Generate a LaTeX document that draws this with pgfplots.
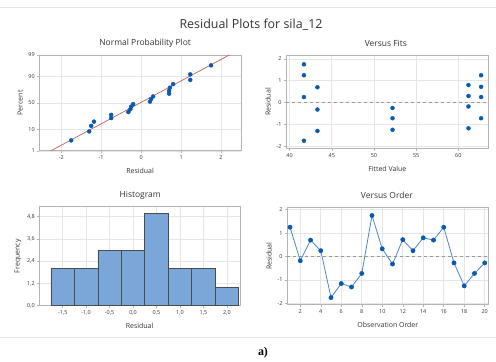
\documentclass[border=0pt]{standalone}
\usepackage{pgfplots}
\pgfplotsset{compat=1.18}
\usepackage{fontspec}
\setmainfont{Open Sans}
\newfontfamily\serifbold{Liberation Serif}
\definecolor{ptblue}{HTML}{0A5AAE}
\definecolor{lineblue}{HTML}{4A86C8}
\definecolor{barfill}{HTML}{7BA6D8}
\definecolor{fitred}{HTML}{C0605C}
\definecolor{gridc}{HTML}{E6E6E6}
\definecolor{framec}{HTML}{B4B4B4}
\definecolor{textc}{HTML}{333333}
\pgfplotsset{
  mystyle/.style={
    scale only axis,
    axis line style={framec, line width=0.8pt},
    grid=major, grid style={gridc, line width=0.6pt},
    tick style={framec, line width=0.5pt},
    tick align=outside, major tick length=2bp,
    xtick pos=bottom, ytick pos=left,
    ticklabel style={font=\fontsize{5.5}{6}\selectfont, text=textc},
    label style={font=\fontsize{7}{8}\selectfont, text=textc},
    xlabel style={yshift=-2bp},
    ylabel style={yshift=-1bp},
    xticklabel style={yshift=1bp},
    yticklabel style={xshift=1bp},
    /pgf/number format/assume math mode=true,
  }
}
\begin{document}
\begin{tikzpicture}[x=1bp,y=1bp]
\path (0,0) rectangle (496,361);
\draw[gridc, line width=0.6pt] (0,354) -- (496,354);
\draw[gridc, line width=0.6pt] (0,23) -- (496,23);
\node[font=\fontsize{12.5}{14}\selectfont, text=textc] at (251,336) {Residual Plots for sila\_12};
\node[font=\fontsize{8.5}{10}\selectfont, text=textc] at (145,318) {Normal Probability Plot};
\node[font=\fontsize{8.5}{10}\selectfont, text=textc] at (386,318) {Versus Fits};
\node[font=\fontsize{8.5}{10}\selectfont, text=textc] at (140,165) {Histogram};
\node[font=\fontsize{8.5}{10}\selectfont, text=textc] at (387,165) {Versus Order};
\node[font=\serifbold\bfseries\fontsize{12}{13}\selectfont] at (263,8) {a)};

% Normal probability plot
\begin{axis}[mystyle, at={(39bp,210bp)}, anchor=south west,
  width=202bp, height=96bp,
  xmin=-2.55, xmax=2.5, ymin=-2.326, ymax=2.326,
  xtick={-2,-1,0,1,2}, xticklabels={-2,-1,0,1,2},
  ytick={-2.326,-1.2816,0,1.2816,2.326}, yticklabels={1,10,50,90,99},
  xlabel={Residual}, ylabel={Percent}, clip=true]
\addplot[fitred, line width=0.7pt] coordinates {(-2.26,-2.326) (2.21,2.326)};
\addplot[only marks, mark=*, mark size=2pt, ptblue] coordinates {
(-1.75,-1.82) (-1.30,-1.383) (-1.25,-1.115) (-1.18,-0.910) (-0.75,-0.737)
(-0.75,-0.584) (-0.32,-0.445) (-0.27,-0.312) (-0.25,-0.185) (-0.20,-0.061)
(0.22,0.061) (0.25,0.185) (0.30,0.312) (0.70,0.445) (0.70,0.584)
(0.72,0.737) (0.80,0.910) (1.23,1.115) (1.23,1.383) (1.75,1.82)};
\end{axis}

% Versus fits
\begin{axis}[mystyle, at={(286bp,212bp)}, anchor=south west,
  width=203bp, height=94bp,
  xmin=39.57, xmax=63.6, ymin=-2.12, ymax=2.18,
  xtick={40,45,50,55,60}, ytick={-2,-1,0,1,2},
  xticklabels={40,45,50,55,60}, yticklabels={-2,-1,0,1,2},
  xlabel={Fitted Value}, ylabel={Residual}]
\addplot[gray!80, dashed, line width=0.6pt] coordinates {(39.57,0) (63.6,0)};
\addplot[only marks, mark=*, mark size=2pt, ptblue] coordinates {
(41.7,1.75) (41.7,1.25) (41.7,0.25) (41.7,-1.75)
(43.3,0.70) (43.3,-0.32) (43.3,-1.30)
(52.2,-0.25) (52.2,-0.72) (52.2,-1.25)
(61.2,0.80) (61.2,0.30) (61.2,-0.18) (61.2,-1.18)
(62.7,1.25) (62.7,0.72) (62.7,0.25) (62.7,-0.72)};
\end{axis}

% Histogram
\begin{axis}[mystyle, at={(39bp,55bp)}, anchor=south west,
  width=201bp, height=99bp,
  xmin=-2.0, xmax=2.28, ymin=0, ymax=5.34,
  xtick={-1.5,-1.0,-0.5,0,0.5,1.0,1.5,2.0},
  xticklabels={{-1,5},{-1,0},{-0,5},{0,0},{0,5},{1,0},{1,5},{2,0}},
  ytick={0,1.2,2.4,3.6,4.8},
  yticklabels={{0,0},{1,2},{2,4},{3,6},{4,8}},
  xlabel={Residual}, ylabel={Frequency}]
\addplot[ybar interval, fill=barfill, draw=black!70, line width=0.6pt] coordinates {
(-1.75,2) (-1.25,2) (-0.75,3) (-0.25,3) (0.25,5) (0.75,2) (1.25,2) (1.75,1) (2.25,1)};
\end{axis}

% Versus order
\begin{axis}[mystyle, at={(287bp,56bp)}, anchor=south west,
  width=202bp, height=97bp,
  xmin=0.7, xmax=20.39, ymin=-2.05, ymax=2.08,
  xtick={2,4,...,20}, ytick={-2,-1,0,1,2},
  xticklabels={2,4,6,8,10,12,14,16,18,20}, yticklabels={-2,-1,0,1,2},
  xlabel={Observation Order}, ylabel={Residual}]
\addplot[gray!80, dashed, line width=0.6pt] coordinates {(0.7,0) (20.39,0)};
\addplot[lineblue, line width=0.8pt, mark=*, mark size=2pt,
  mark options={fill=ptblue, draw=ptblue}] coordinates {
(1,1.25) (2,-0.18) (3,0.70) (4,0.25) (5,-1.75) (6,-1.15) (7,-1.30) (8,-0.72)
(9,1.75) (10,0.33) (11,-0.32) (12,0.72) (13,0.25) (14,0.80) (15,0.70) (16,1.25)
(17,-0.27) (18,-1.25) (19,-0.72) (20,-0.27)};
\end{axis}
\end{tikzpicture}
\end{document}
